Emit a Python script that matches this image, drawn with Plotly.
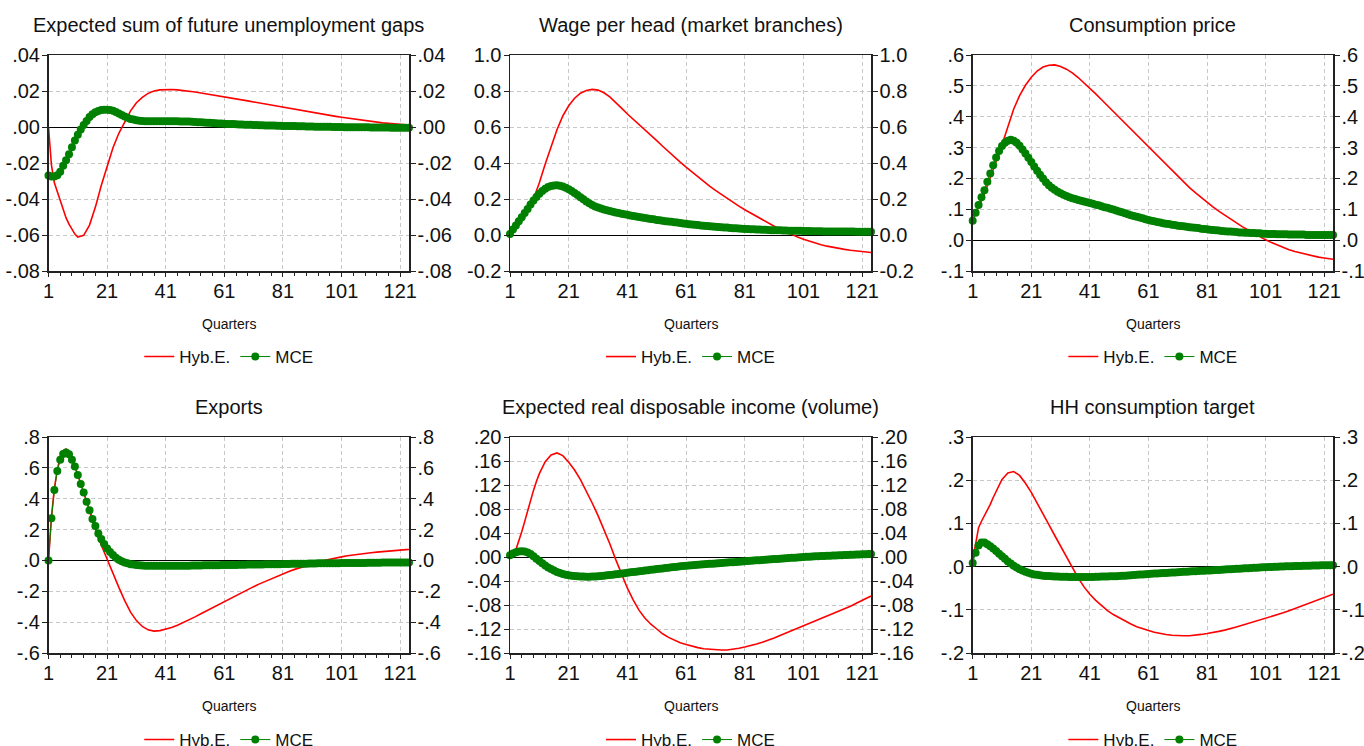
import plotly.graph_objects as go

# ---------------- data ----------------
QUARTERS = list(range(1, 125))
RED_QUARTERS = list(range(1, 11)) + list(range(11, 124, 2)) + [124]
X_TICKS = [1, 21, 41, 61, 81, 101, 121]
X_MINOR = list(range(1, 125, 4))
SERIES_NAMES = ["Hyb.E.", "MCE"]

TITLES = [
    "Expected sum of future unemployment gaps",
    "Wage per head (market branches)",
    "Consumption price",
    "Exports",
    "Expected real disposable income (volume)",
    "HH consumption target",
]

# --- Expected sum of future unemployment gaps
ugap_hyb = [
    0.0, -0.021, -0.031, -0.036, -0.041, -0.046, -0.0505, -0.054, -0.057, -0.0595,
    -0.0612, -0.0602, -0.0545, -0.0445, -0.0325, -0.0215, -0.0115, -0.0035, 0.0030, 0.0090,
    0.0135, 0.0165, 0.0187, 0.0200, 0.0206, 0.0208, 0.0208, 0.0206, 0.0203, 0.0199,
    0.0194, 0.0189, 0.0184, 0.0179, 0.0174, 0.0169, 0.0163, 0.0157, 0.0151, 0.0145,
    0.0139, 0.0133, 0.0127, 0.0121, 0.0115, 0.0110, 0.0104, 0.0098, 0.0092, 0.0086,
    0.0080, 0.0074, 0.0069, 0.0064, 0.0059, 0.0054, 0.0049, 0.0044, 0.0039, 0.0035,
    0.0031, 0.0027, 0.0023, 0.0020, 0.0017, 0.0014, 0.0012,
    0.0011,
]
ugap_mce = [
    -0.0270, -0.0275, -0.0275, -0.0268, -0.0248, -0.0215, -0.0185, -0.0152, -0.0113, -0.0075,
    -0.0043, -0.0014, 0.0011, 0.0034, 0.0055, 0.0071, 0.0082, 0.0089, 0.0094, 0.0096,
    0.0096, 0.0094, 0.0090, 0.0083, 0.0075, 0.0066, 0.0058, 0.0051, 0.0045, 0.0041,
    0.0037, 0.0035, 0.0033, 0.0032, 0.0032, 0.0032, 0.0032, 0.0032, 0.0032, 0.0032,
    0.0032, 0.0032, 0.0032, 0.0032, 0.0032, 0.0031, 0.0031, 0.0030, 0.0030, 0.0029,
    0.0028, 0.0027, 0.0026, 0.0025, 0.0024, 0.0023, 0.0022, 0.0021, 0.0020, 0.0019,
    0.0018, 0.0017, 0.0016, 0.0016, 0.0015, 0.0014, 0.0014, 0.0013, 0.0012, 0.0012,
    0.0011, 0.0011, 0.0010, 0.0010, 0.0009, 0.0009, 0.0008, 0.0008, 0.0007, 0.0007,
    0.0006, 0.0006, 0.0005, 0.0005, 0.0005, 0.0004, 0.0004, 0.0004, 0.0003, 0.0003,
    0.0003, 0.0002, 0.0002, 0.0002, 0.0001, 0.0001, 0.0001, 0.0000, 0.0000, 0.0000,
    0.0000, -0.0001, -0.0001, -0.0001, -0.0001, -0.0002, -0.0002, -0.0002, -0.0002, -0.0002,
    -0.0003, -0.0003, -0.0003, -0.0003, -0.0003, -0.0003, -0.0003, -0.0004, -0.0004, -0.0004,
    -0.0004, -0.0004, -0.0004, -0.0004,
]

# --- Wage per head (market branches)
wage_hyb = [
    0.0, 0.028, 0.052, 0.075, 0.098, 0.121, 0.145, 0.170, 0.200, 0.240,
    0.290, 0.395, 0.495, 0.585, 0.662, 0.718, 0.760, 0.788, 0.803, 0.809,
    0.805, 0.790, 0.767, 0.738, 0.705, 0.672, 0.643, 0.615, 0.586, 0.555,
    0.524, 0.493, 0.462, 0.432, 0.405, 0.377, 0.350, 0.323, 0.297, 0.272,
    0.248, 0.225, 0.203, 0.181, 0.160, 0.140, 0.121, 0.102, 0.084, 0.066,
    0.049, 0.033, 0.017, 0.003, -0.011, -0.024, -0.035, -0.045, -0.054, -0.062,
    -0.069, -0.075, -0.080, -0.085, -0.089, -0.093, -0.096,
    -0.097,
]
wage_mce = [
    0.005, 0.030, 0.053, 0.076, 0.099, 0.122, 0.145, 0.169, 0.191, 0.211,
    0.229, 0.245, 0.257, 0.266, 0.272, 0.275, 0.276, 0.274, 0.269, 0.262,
    0.254, 0.245, 0.234, 0.222, 0.210, 0.198, 0.186, 0.176, 0.167, 0.159,
    0.153, 0.147, 0.142, 0.137, 0.133, 0.129, 0.125, 0.122, 0.118, 0.115,
    0.112, 0.109, 0.106, 0.103, 0.100, 0.097, 0.094, 0.092, 0.089, 0.087,
    0.084, 0.082, 0.079, 0.077, 0.075, 0.073, 0.071, 0.069, 0.067, 0.064,
    0.062, 0.060, 0.058, 0.057, 0.055, 0.053, 0.052, 0.050, 0.049, 0.047,
    0.046, 0.044, 0.043, 0.042, 0.041, 0.039, 0.038, 0.037, 0.036, 0.035,
    0.034, 0.033, 0.032, 0.032, 0.031, 0.030, 0.029, 0.029, 0.028, 0.027,
    0.027, 0.026, 0.026, 0.025, 0.025, 0.024, 0.024, 0.023, 0.023, 0.023,
    0.022, 0.022, 0.022, 0.021, 0.021, 0.021, 0.021, 0.020, 0.020, 0.020,
    0.020, 0.020, 0.019, 0.019, 0.019, 0.019, 0.019, 0.019, 0.018, 0.018,
    0.018, 0.018, 0.018, 0.018,
]

# --- Consumption price
cpi_hyb = [
    0.065, 0.085, 0.105, 0.127, 0.150, 0.177, 0.205, 0.230, 0.255, 0.280,
    0.308, 0.370, 0.425, 0.468, 0.502, 0.528, 0.548, 0.561, 0.567, 0.568,
    0.563, 0.554, 0.542, 0.527, 0.510, 0.492, 0.474, 0.455, 0.436, 0.417,
    0.398, 0.379, 0.360, 0.341, 0.321, 0.301, 0.281, 0.262, 0.243, 0.224,
    0.205, 0.187, 0.170, 0.154, 0.138, 0.123, 0.108, 0.094, 0.081, 0.068,
    0.056, 0.044, 0.033, 0.022, 0.011, 0.001, -0.008, -0.016, -0.024, -0.031,
    -0.037, -0.042, -0.047, -0.051, -0.055, -0.058, -0.061,
    -0.062,
]
cpi_mce = [
    0.063, 0.089, 0.114, 0.139, 0.162, 0.189, 0.216, 0.243, 0.268, 0.289,
    0.305, 0.316, 0.322, 0.325, 0.322, 0.316, 0.306, 0.294, 0.281, 0.267,
    0.253, 0.239, 0.225, 0.212, 0.200, 0.188, 0.178, 0.170, 0.163, 0.157,
    0.152, 0.147, 0.143, 0.139, 0.136, 0.133, 0.130, 0.128, 0.125, 0.123,
    0.120, 0.118, 0.115, 0.113, 0.110, 0.107, 0.105, 0.102, 0.099, 0.096,
    0.093, 0.090, 0.087, 0.084, 0.081, 0.078, 0.076, 0.073, 0.071, 0.068,
    0.065, 0.063, 0.061, 0.059, 0.057, 0.055, 0.053, 0.052, 0.050, 0.049,
    0.047, 0.046, 0.045, 0.043, 0.042, 0.041, 0.040, 0.039, 0.037, 0.036,
    0.035, 0.034, 0.033, 0.032, 0.031, 0.030, 0.029, 0.028, 0.028, 0.027,
    0.026, 0.025, 0.025, 0.024, 0.024, 0.023, 0.023, 0.022, 0.022, 0.021,
    0.021, 0.020, 0.020, 0.020, 0.019, 0.019, 0.019, 0.019, 0.018, 0.018,
    0.018, 0.018, 0.018, 0.018, 0.017, 0.017, 0.017, 0.017, 0.017, 0.017,
    0.017, 0.017, 0.017, 0.017,
]

# --- Exports
exp_hyb = [
    0.0, 0.280, 0.465, 0.590, 0.665, 0.710, 0.722, 0.700, 0.660, 0.610,
    0.555, 0.440, 0.320, 0.200, 0.100, 0.005, -0.085, -0.175, -0.260, -0.335,
    -0.390, -0.428, -0.450, -0.458, -0.455, -0.447, -0.435, -0.420, -0.403, -0.385,
    -0.366, -0.346, -0.326, -0.306, -0.286, -0.265, -0.245, -0.226, -0.208, -0.190,
    -0.170, -0.152, -0.135, -0.118, -0.102, -0.087, -0.072, -0.058, -0.045, -0.033,
    -0.021, -0.011, -0.001, 0.008, 0.016, 0.023, 0.030, 0.036, 0.041, 0.046,
    0.050, 0.054, 0.058, 0.061, 0.064, 0.067, 0.070,
    0.071,
]
exp_mce = [
    0.000, 0.273, 0.457, 0.580, 0.652, 0.690, 0.700, 0.688, 0.652, 0.608,
    0.554, 0.496, 0.440, 0.381, 0.325, 0.268, 0.223, 0.175, 0.139, 0.106,
    0.078, 0.054, 0.035, 0.018, 0.005, -0.005, -0.013, -0.019, -0.024, -0.027,
    -0.030, -0.032, -0.033, -0.034, -0.035, -0.035, -0.035, -0.035, -0.035, -0.035,
    -0.035, -0.035, -0.035, -0.035, -0.035, -0.034, -0.034, -0.034, -0.034, -0.033,
    -0.033, -0.033, -0.033, -0.032, -0.032, -0.032, -0.031, -0.031, -0.031, -0.030,
    -0.030, -0.030, -0.029, -0.029, -0.029, -0.028, -0.028, -0.028, -0.027, -0.027,
    -0.027, -0.026, -0.026, -0.026, -0.025, -0.025, -0.025, -0.024, -0.024, -0.024,
    -0.023, -0.023, -0.023, -0.022, -0.022, -0.022, -0.021, -0.021, -0.021, -0.020,
    -0.020, -0.020, -0.019, -0.019, -0.019, -0.019, -0.018, -0.018, -0.018, -0.018,
    -0.017, -0.017, -0.017, -0.017, -0.016, -0.016, -0.016, -0.016, -0.016, -0.015,
    -0.015, -0.015, -0.015, -0.015, -0.014, -0.014, -0.014, -0.014, -0.014, -0.014,
    -0.013, -0.013, -0.013, -0.013,
]

# --- Expected real disposable income (volume)
rdi_hyb = [
    0.0, 0.004, 0.012, 0.026, 0.042, 0.059, 0.077, 0.095, 0.111, 0.126,
    0.139, 0.159, 0.170, 0.1735, 0.169, 0.158, 0.145, 0.129, 0.110, 0.090,
    0.069, 0.046, 0.022, -0.004, -0.029, -0.052, -0.072, -0.089, -0.102, -0.112,
    -0.120, -0.128, -0.134, -0.139, -0.143, -0.146, -0.149, -0.151, -0.153, -0.154,
    -0.155, -0.155, -0.155, -0.154, -0.152, -0.150, -0.148, -0.145, -0.142, -0.139,
    -0.135, -0.131, -0.127, -0.123, -0.119, -0.115, -0.111, -0.107, -0.103, -0.099,
    -0.095, -0.090, -0.086, -0.082, -0.077, -0.072, -0.067,
    -0.065,
]
rdi_mce = [
    0.0030, 0.0060, 0.0080, 0.0090, 0.0095, 0.0090, 0.0075, 0.0048, 0.0012, -0.0028,
    -0.0068, -0.0106, -0.0141, -0.0173, -0.0202, -0.0227, -0.0249, -0.0267, -0.0282, -0.0294,
    -0.0304, -0.0312, -0.0318, -0.0322, -0.0325, -0.0327, -0.0328, -0.0328, -0.0327, -0.0325,
    -0.0321, -0.0317, -0.0312, -0.0306, -0.0300, -0.0294, -0.0288, -0.0282, -0.0276, -0.0269,
    -0.0262, -0.0256, -0.0250, -0.0244, -0.0238, -0.0232, -0.0226, -0.0220, -0.0214, -0.0208,
    -0.0202, -0.0196, -0.0190, -0.0184, -0.0178, -0.0172, -0.0166, -0.0161, -0.0156, -0.0150,
    -0.0145, -0.0141, -0.0137, -0.0133, -0.0129, -0.0125, -0.0122, -0.0118, -0.0114, -0.0111,
    -0.0107, -0.0104, -0.0100, -0.0096, -0.0093, -0.0089, -0.0086, -0.0082, -0.0078, -0.0074,
    -0.0070, -0.0067, -0.0063, -0.0060, -0.0056, -0.0053, -0.0049, -0.0046, -0.0042, -0.0039,
    -0.0035, -0.0032, -0.0028, -0.0025, -0.0021, -0.0018, -0.0014, -0.0011, -0.0007, -0.0004,
    0.0000, 0.0003, 0.0006, 0.0009, 0.0011, 0.0014, 0.0016, 0.0018, 0.0020, 0.0022,
    0.0024, 0.0026, 0.0028, 0.0030, 0.0032, 0.0034, 0.0036, 0.0038, 0.0040, 0.0042,
    0.0044, 0.0046, 0.0048, 0.0050,
]

# --- HH consumption target
hh_hyb = [
    0.015, 0.058, 0.090, 0.105, 0.117, 0.130, 0.144, 0.160, 0.175, 0.190,
    0.202, 0.217, 0.220, 0.211, 0.193, 0.172, 0.148, 0.122, 0.097, 0.072,
    0.047, 0.022, -0.002, -0.026, -0.047, -0.064, -0.078, -0.091, -0.102, -0.111,
    -0.119, -0.126, -0.133, -0.139, -0.144, -0.148, -0.152, -0.155, -0.157, -0.159,
    -0.160, -0.160, -0.160, -0.159, -0.157, -0.155, -0.153, -0.150, -0.147, -0.144,
    -0.140, -0.136, -0.132, -0.128, -0.124, -0.120, -0.116, -0.111, -0.107, -0.102,
    -0.097, -0.092, -0.087, -0.082, -0.077, -0.072, -0.067,
    -0.064,
]
hh_mce = [
    0.0085, 0.0320, 0.0490, 0.0560, 0.0560, 0.0520, 0.0470, 0.0420, 0.0360, 0.0300,
    0.0240, 0.0180, 0.0120, 0.0070, 0.0020, -0.0020, -0.0060, -0.0090, -0.0120, -0.0145,
    -0.0165, -0.0180, -0.0190, -0.0200, -0.0210, -0.0215, -0.0220, -0.0225, -0.0230, -0.0230,
    -0.0235, -0.0235, -0.0235, -0.0240, -0.0240, -0.0240, -0.0240, -0.0240, -0.0240, -0.0240,
    -0.0240, -0.0238, -0.0236, -0.0234, -0.0232, -0.0230, -0.0228, -0.0226, -0.0224, -0.0222,
    -0.0218, -0.0214, -0.0210, -0.0205, -0.0200, -0.0195, -0.0190, -0.0185, -0.0180, -0.0175,
    -0.0170, -0.0166, -0.0162, -0.0158, -0.0154, -0.0150, -0.0146, -0.0142, -0.0138, -0.0134,
    -0.0130, -0.0126, -0.0122, -0.0118, -0.0114, -0.0110, -0.0106, -0.0102, -0.0098, -0.0095,
    -0.0092, -0.0088, -0.0084, -0.0080, -0.0076, -0.0072, -0.0068, -0.0064, -0.0060, -0.0056,
    -0.0052, -0.0048, -0.0044, -0.0040, -0.0036, -0.0032, -0.0028, -0.0024, -0.0020, -0.0017,
    -0.0014, -0.0011, -0.0008, -0.0005, -0.0002, 0.0001, 0.0004, 0.0006, 0.0008, 0.0010,
    0.0012, 0.0014, 0.0016, 0.0018, 0.0020, 0.0022, 0.0024, 0.0026, 0.0028, 0.0030,
    0.0031, 0.0032, 0.0033, 0.0034,
]

HYB = [ugap_hyb, wage_hyb, cpi_hyb, exp_hyb, rdi_hyb, hh_hyb]
MCE = [ugap_mce, wage_mce, cpi_mce, exp_mce, rdi_mce, hh_mce]

Y_TICKVALS = [
    [-0.08, -0.06, -0.04, -0.02, 0.0, 0.02, 0.04],
    [-0.2, 0.0, 0.2, 0.4, 0.6, 0.8, 1.0],
    [-0.1, 0.0, 0.1, 0.2, 0.3, 0.4, 0.5, 0.6],
    [-0.6, -0.4, -0.2, 0.0, 0.2, 0.4, 0.6, 0.8],
    [-0.16, -0.12, -0.08, -0.04, 0.0, 0.04, 0.08, 0.12, 0.16, 0.20],
    [-0.2, -0.1, 0.0, 0.1, 0.2, 0.3],
]
Y_TICKTEXT = [
    ["-.08", "-.06", "-.04", "-.02", ".00", ".02", ".04"],
    ["-0.2", "0.0", "0.2", "0.4", "0.6", "0.8", "1.0"],
    ["-.1", ".0", ".1", ".2", ".3", ".4", ".5", ".6"],
    ["-.6", "-.4", "-.2", ".0", ".2", ".4", ".6", ".8"],
    ["-.16", "-.12", "-.08", "-.04", ".00", ".04", ".08", ".12", ".16", ".20"],
    ["-.2", "-.1", ".0", ".1", ".2", ".3"],
]

for arr in HYB:
    assert len(arr) == len(RED_QUARTERS), len(arr)
for arr in MCE:
    assert len(arr) == len(QUARTERS), len(arr)

# ---------------- layout geometry (window pixels) ----------------
W, H = 1364, 746
COL_X = [(48.5, 409.0), (510.0, 871.0), (972.7, 1333.0)]
ROW_Y = [(55.0, 271.0), (437.0, 653.0)]
TITLE_Y = [25, 407]
XLABEL_Y = [324, 706]
LEGEND_Y = [357, 740]


def px_x(px):
    return px / W


def px_y(py):
    return 1 - py / H


FONT = "Arial, 'Liberation Sans', Helvetica, sans-serif"
RED = "#ff0000"
GREEN = "#008000"
AXIS_COLOR = "#222222"
GRID_COLOR = "#c8c8c8"
TEXT_COLOR = "#111111"

fig = go.Figure()
layout = dict(
    width=W, height=H,
    margin=dict(l=0, r=0, t=0, b=0, autoexpand=False),
    paper_bgcolor="white", plot_bgcolor="white",
    font=dict(family=FONT, color=TEXT_COLOR),
    showlegend=True,
    hovermode=False,
    annotations=[],
)

for i in range(6):
    r, c = divmod(i, 3)
    x0, x1 = COL_X[c]
    y0, y1 = ROW_Y[r]
    n = i + 1
    xname = "x" if n == 1 else f"x{n}"
    yname = "y" if n == 1 else f"y{n}"
    y2name = f"y{n + 6}"
    leg = "legend" if n == 1 else f"legend{n}"
    yr = [Y_TICKVALS[i][0], Y_TICKVALS[i][-1]]

    fig.add_trace(go.Scatter(
        x=RED_QUARTERS, y=HYB[i], name=SERIES_NAMES[0], mode="lines",
        line=dict(color=RED, width=1.6), xaxis=xname, yaxis=yname, legend=leg,
    ))
    fig.add_trace(go.Scatter(
        x=QUARTERS, y=MCE[i], name=SERIES_NAMES[1], mode="lines+markers",
        line=dict(color=GREEN, width=1), marker=dict(color=GREEN, size=8),
        cliponaxis=False, xaxis=xname, yaxis=y2name, legend=leg,
    ))

    xkey = "xaxis" if n == 1 else f"xaxis{n}"
    ykey = "yaxis" if n == 1 else f"yaxis{n}"
    y2key = f"yaxis{n + 6}"

    layout[xkey] = dict(
        domain=[px_x(x0), px_x(x1)], anchor=yname, range=[1, 124],
        tickmode="array", tickvals=X_TICKS, ticktext=[str(v) for v in X_TICKS],
        ticks="outside", ticklen=4, tickcolor=AXIS_COLOR, tickwidth=1,
        showline=True, linecolor=AXIS_COLOR, linewidth=1.5, mirror=True,
        showgrid=True, gridcolor=GRID_COLOR, griddash="4px,3px", gridwidth=1,
        zeroline=False, tickfont=dict(size=20, family=FONT, color=TEXT_COLOR),
        ticklabelstandoff=-3,
        minor=dict(tickmode="array", tickvals=X_MINOR, ticks="outside",
                   ticklen=3, tickcolor=AXIS_COLOR, showgrid=False),
        fixedrange=True,
    )
    common_y = dict(
        domain=[px_y(y1), px_y(y0)], anchor=xname, range=yr,
        tickmode="array", tickvals=Y_TICKVALS[i], ticktext=Y_TICKTEXT[i],
        ticks="outside", ticklen=5, tickcolor=AXIS_COLOR, tickwidth=1,
        showline=True, linecolor=AXIS_COLOR, linewidth=1.5,
        tickfont=dict(size=20, family=FONT, color=TEXT_COLOR),
        ticklabelstandoff=-2,
        fixedrange=True,
    )
    layout[ykey] = dict(
        common_y, side="left", mirror=True,
        showgrid=True, gridcolor=GRID_COLOR, griddash="4px,3px", gridwidth=1,
        zeroline=True, zerolinecolor="#000000", zerolinewidth=1,
    )
    layout[y2key] = dict(
        common_y, side="right", overlaying=yname, showgrid=False, zeroline=False,
    )

    cx = px_x((x0 + x1) / 2)
    layout["annotations"].append(dict(
        text=TITLES[i], x=cx, y=px_y(TITLE_Y[r]), xref="paper", yref="paper",
        xanchor="center", yanchor="middle", showarrow=False,
        font=dict(size=20, family=FONT, color=TEXT_COLOR),
    ))
    layout["annotations"].append(dict(
        text="Quarters", x=cx, y=px_y(XLABEL_Y[r]), xref="paper", yref="paper",
        xanchor="center", yanchor="middle", showarrow=False,
        font=dict(size=14, family=FONT, color=TEXT_COLOR),
    ))
    layout[leg] = dict(
        orientation="h", x=cx, xanchor="center", y=px_y(LEGEND_Y[r]),
        yanchor="middle", bgcolor="rgba(0,0,0,0)",
        font=dict(size=17, family=FONT, color=TEXT_COLOR),
        itemclick=False, itemdoubleclick=False,
    )

fig.update_layout(**layout)

# remove the default page margin so the figure fills the window exactly
PAGE_CSS = (
    "document.documentElement.style.margin='0';"
    "document.body.style.margin='0';"
    "document.body.style.overflow='hidden';"
)
fig.write_html("out.html", post_script=PAGE_CSS,
               config={"displayModeBar": False, "staticPlot": True})
